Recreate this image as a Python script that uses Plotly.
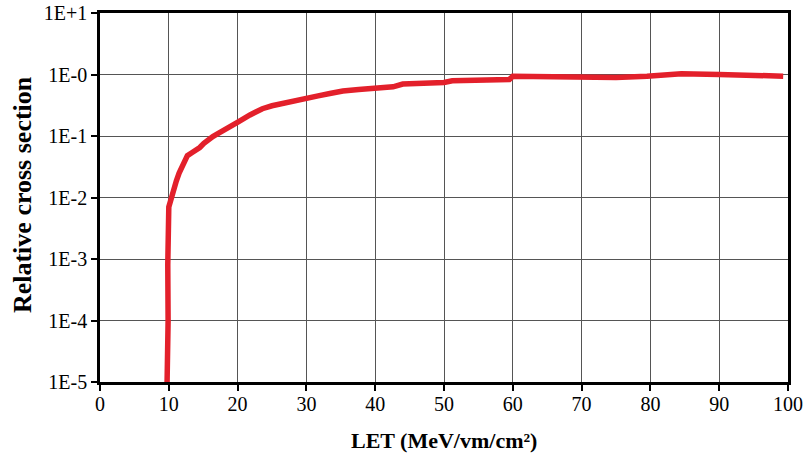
import plotly.graph_objects as go

# LET values (MeV/vm/cm²) and relative cross section
let_vals = [9.75, 9.8, 9.9, 9.9, 9.85, 9.9, 9.95, 10.0, 10.4, 10.7, 11.1, 11.5, 11.9,
            12.3, 12.7, 13.4, 14.0, 14.5, 15.1, 15.75, 16.4, 17.0, 17.8, 18.6, 20.1,
            21.8, 23.6, 25.0, 26.5, 28.2, 30.0, 31.7, 33.4, 35.3, 37.6, 40.0, 42.6,
            44.0, 47.0, 50.0, 51.2, 54.0, 56.7, 59.5, 60.0, 65.0, 69.7, 75.0, 79.5,
            82.0, 84.5, 90.0, 95.0, 99.3]
cross_section = [1e-5, 1.7e-5, 2.2e-5, 1e-4, 8e-4, 1.5e-3, 4e-3, 7e-3, 1e-2, 1.4e-2,
                 1.87e-2, 0.025, 0.032, 0.040, 0.048, 0.054, 0.058, 0.065, 0.076,
                 0.089, 0.098, 0.107, 0.122, 0.138, 0.17, 0.22, 0.278, 0.31, 0.34,
                 0.38, 0.415, 0.45, 0.49, 0.54, 0.57, 0.60, 0.63, 0.70, 0.72, 0.74,
                 0.79, 0.81, 0.83, 0.83, 0.94, 0.91, 0.88, 0.89, 0.94, 0.99, 1.03, 1.0,
                 0.97, 0.94]

x_ticks = [0, 10, 20, 30, 40, 50, 60, 70, 80, 90, 100]
y_tickvals = [1e1, 1e0, 1e-1, 1e-2, 1e-3, 1e-4, 1e-5]
y_ticktext = ["1E+1", "1E-0", "1E-1", "1E-2", "1E-3", "1E-4", "1E-5"]

serif = "Times New Roman"

fig = go.Figure()
fig.add_trace(go.Scatter(
    x=let_vals, y=cross_section, mode="lines",
    line=dict(color="#e3202b", width=5.5),
    showlegend=False, hoverinfo="skip",
))

fig.update_layout(
    width=811, height=472,
    margin=dict(l=100, r=23, t=13, b=90, autoexpand=False),
    paper_bgcolor="white", plot_bgcolor="white",
    font=dict(family=serif, color="black", size=20),
)
fig.update_xaxes(
    range=[0, 100], tickvals=x_ticks, ticktext=[str(v) for v in x_ticks],
    showgrid=True, gridcolor="#555555", gridwidth=1,
    showline=True, linecolor="black", linewidth=2.5, mirror=True,
    ticks="outside", ticklen=6, tickwidth=2, tickcolor="black",
    ticklabelstandoff=-4,
    tickfont=dict(family=serif, size=20), zeroline=False, automargin=False,
)
fig.update_yaxes(
    type="log", range=[-5, 1], tickvals=y_tickvals, ticktext=y_ticktext,
    showgrid=True, gridcolor="#555555", gridwidth=1,
    showline=True, linecolor="black", linewidth=2.5, mirror=True,
    ticks="outside", ticklen=6, tickwidth=2, tickcolor="black",
    tickfont=dict(family=serif, size=20), zeroline=False, automargin=False,
)

fig.add_annotation(
    text="<b>Relative cross section</b>", xref="paper", yref="paper",
    x=-0.1126, y=0.508, xanchor="center", yanchor="middle", textangle=-90,
    showarrow=False, font=dict(family=serif, size=26, color="black"),
)
fig.add_annotation(
    text="<b>LET (MeV/vm/cm²)</b>", xref="paper", yref="paper",
    x=0.5, y=-0.158, xanchor="center", yanchor="middle",
    showarrow=False, font=dict(family=serif, size=22, color="black"),
)

fig.write_html("out.html")
